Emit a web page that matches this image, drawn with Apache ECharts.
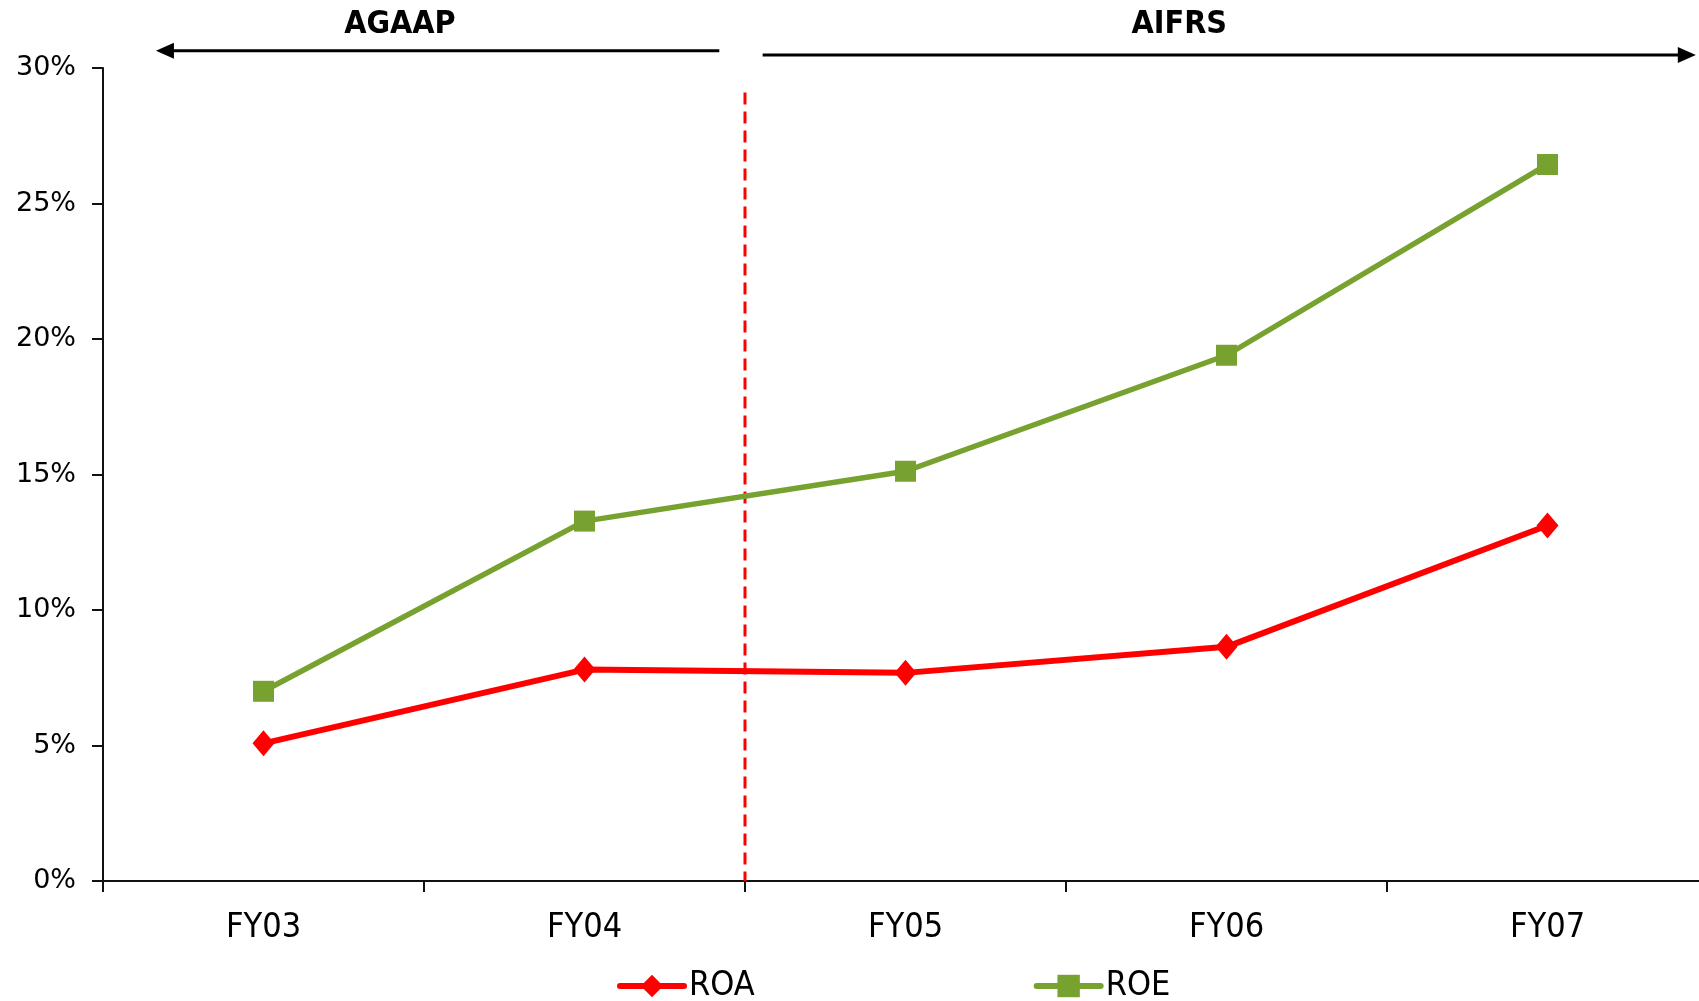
<!DOCTYPE html>
<html>
<head>
<meta charset="utf-8">
<script src="https://cdn.jsdelivr.net/npm/echarts@6/dist/echarts.min.js"></script>
<style>
  html, body { margin: 0; padding: 0; background: #fff; }
  #chart { width: 1699px; height: 1001px; }
</style>
</head>
<body>
<div id="chart"></div>
<script>
// Return ratios by financial year (percent)
const categories = ['FY03', 'FY04', 'FY05', 'FY06', 'FY07'];
const roaValues = [5.08, 7.8, 7.68, 8.64, 13.12];
const roeValues = [7.0, 13.28, 15.12, 19.4, 26.44];

// Value axis ticks
const yMin = 0;
const yMax = 30;
const yStep = 5;

// Accounting regimes shown above the plot (positions in category-index / value units)
const regimeNames = ['AGAAP', 'AIFRS'];
const regimeArrowFrom = [1.42, 1.555];
const regimeArrowTo = [-0.335, 4.462];
const regimeArrowLevel = [30.64, 30.48];
const regimeLabelAt = [0.425, 2.853];
const regimeLabelLevel = 31.6;

// Changeover from AGAAP to AIFRS: boundary between FY04 and FY05
const changeoverAt = 1.5;
const changeoverTop = 29.1;

const narrowFont = "'Liberation Sans Narrow', 'Arial Narrow', 'DejaVu Sans Condensed', sans-serif";
const tickFont = "'DejaVu Sans', Verdana, sans-serif";

const chart = echarts.init(document.getElementById('chart'), null, { renderer: 'canvas' });

chart.setOption({
  animation: false,
  backgroundColor: '#ffffff',
  grid: {
    left: 103,
    right: -9,
    top: 68,
    bottom: 120,
    containLabel: false,
    outerBoundsMode: 'none'
  },
  legend: {
    left: 612,
    top: 964,
    itemGap: 279,
    itemWidth: 64,
    itemHeight: 28,
    textStyle: { fontFamily: narrowFont, fontSize: 34, color: '#000' },
    lineStyle: { width: 6, cap: 'round' },
    data: ['ROA', 'ROE']
  },
  xAxis: {
    type: 'category',
    data: categories,
    boundaryGap: true,
    axisLine: { lineStyle: { color: '#111', width: 2 } },
    axisTick: { show: true, interval: 0, length: 11, lineStyle: { color: '#111', width: 2 } },
    axisLabel: { interval: 0, margin: 30, fontFamily: narrowFont, fontSize: 34, color: '#000' },
    splitLine: { show: false }
  },
  yAxis: {
    type: 'value',
    min: yMin,
    max: yMax,
    interval: yStep,
    axisLine: { show: true, lineStyle: { color: '#111', width: 2 } },
    axisTick: { show: true, length: 11, lineStyle: { color: '#111', width: 2 } },
    axisLabel: { margin: 27, fontFamily: tickFont, fontSize: 27, color: '#000', formatter: '{value}%' },
    splitLine: { show: false }
  },
  series: [
    {
      name: 'ROA',
      type: 'line',
      data: roaValues,
      symbol: 'diamond',
      symbolSize: [22, 26],
      color: '#ff0000',
      lineStyle: { color: '#ff0000', width: 6 },
      itemStyle: { color: '#ff0000' },
      z: 3
    },
    {
      name: 'ROE',
      type: 'line',
      data: roeValues,
      symbol: 'rect',
      symbolSize: 21,
      color: '#78a22f',
      lineStyle: { color: '#78a22f', width: 5.5 },
      itemStyle: { color: '#78a22f' },
      z: 3
    }
  ]
});

// Map category-index and value units to pixels through the chart's own axes
const x0 = chart.convertToPixel({ xAxisIndex: 0 }, categories[0]);
const x1 = chart.convertToPixel({ xAxisIndex: 0 }, categories[1]);
const px = (idx) => x0 + idx * (x1 - x0);
const py = (v) => chart.convertToPixel({ yAxisIndex: 0 }, v);

const graphics = [];

// Dashed changeover line
graphics.push({
  type: 'line',
  shape: { x1: px(changeoverAt), y1: py(changeoverTop), x2: px(changeoverAt), y2: py(yMin) },
  style: { stroke: '#ff0000', lineWidth: 3, lineDash: [12, 7] },
  z: 1
});

// Regime arrows and labels
for (let i = 0; i < regimeNames.length; i++) {
  const xa = px(regimeArrowFrom[i]);
  const xb = px(regimeArrowTo[i]);
  const y = py(regimeArrowLevel[i]);
  const dir = xb > xa ? 1 : -1;
  const head = 18;
  graphics.push({
    type: 'line',
    shape: { x1: xa, y1: y, x2: xb - dir * head * 0.8, y2: y },
    style: { stroke: '#000', lineWidth: 3 },
    z: 5
  });
  graphics.push({
    type: 'polygon',
    shape: { points: [[xb, y], [xb - dir * head, y - 8], [xb - dir * head, y + 8]] },
    style: { fill: '#000' },
    z: 5
  });
  graphics.push({
    type: 'text',
    x: px(regimeLabelAt[i]),
    y: py(regimeLabelLevel),
    style: {
      text: regimeNames[i],
      fontFamily: narrowFont,
      fontWeight: 'bold',
      fontSize: 32,
      fill: '#000',
      align: 'center',
      verticalAlign: 'middle'
    },
    z: 5
  });
}

chart.setOption({ graphic: graphics });
</script>
</body>
</html>
